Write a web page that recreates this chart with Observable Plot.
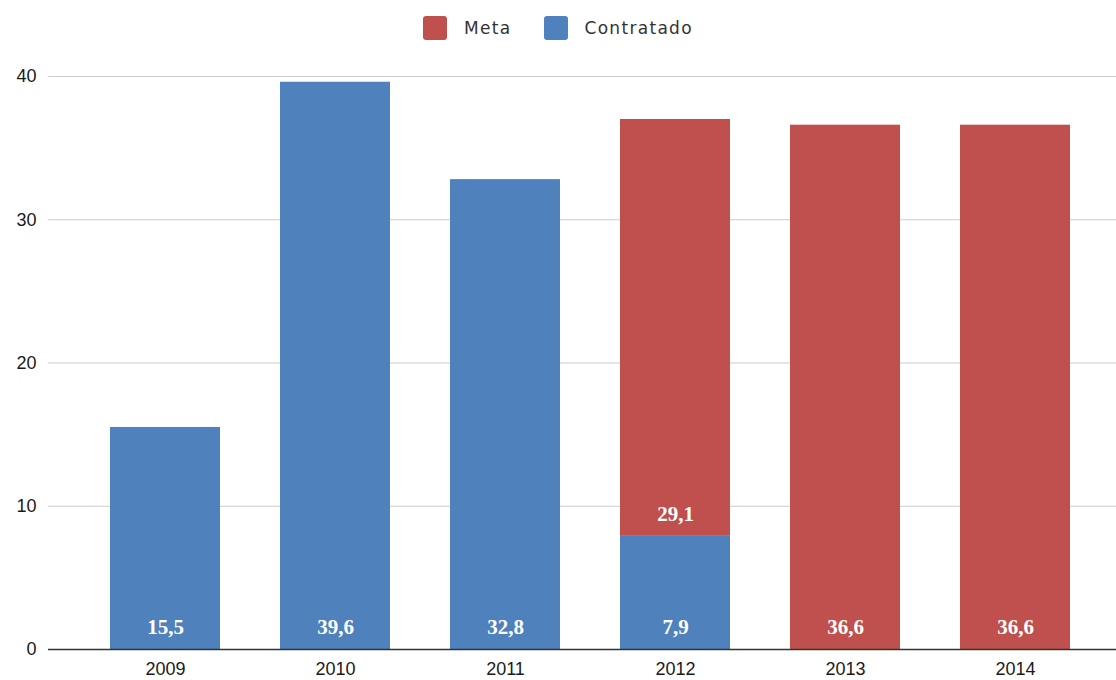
<!DOCTYPE html>
<html>
<head>
<meta charset="utf-8">
<script src="https://cdn.jsdelivr.net/npm/d3@7"></script>
<script src="https://cdn.jsdelivr.net/npm/@observablehq/plot@0.6"></script>
<style>
  html, body { margin: 0; padding: 0; background: #fff; }
  #legend { height: 50px; display: flex; justify-content: center; align-items: center; font-family: "DejaVu Sans", sans-serif; font-size: 17px; letter-spacing: 1.3px; color: #333; padding-left: 0px; box-sizing: border-box; padding-top: 5px; }
  .item { display: flex; align-items: center; margin: 0 16px; }
  .sw { width: 24px; height: 24px; border-radius: 3px; margin-right: 17px; }
</style>
</head>
<body>
<div id="legend"></div>
<div id="chart"></div>
<script>
const years = ["2009", "2010", "2011", "2012", "2013", "2014"];
const contratado = [15.5, 39.6, 32.8, 7.9, 0, 0];
const meta = [0, 0, 0, 29.1, 36.6, 36.6];
const series = ["Meta", "Contratado"];
const colors = ["#c0504d", "#4f81bd"];
const yTicks = [0, 10, 20, 30, 40];

const rows = [];
years.forEach((yr, i) => {
  rows.push({year: yr, serie: "Contratado", value: contratado[i], base: 0});
  rows.push({year: yr, serie: "Meta", value: meta[i], base: contratado[i]});
});
const labelled = rows.filter(d => d.value > 0);
const fmt = v => v.toFixed(1).replace(".", ",");

// legend
const leg = document.getElementById("legend");
series.forEach((s, i) => {
  const it = document.createElement("div");
  it.className = "item";
  const sw = document.createElement("div");
  sw.className = "sw";
  sw.style.background = colors[i];
  const t = document.createElement("span");
  t.textContent = s;
  it.appendChild(sw); it.appendChild(t);
  leg.appendChild(it);
});

const chart = Plot.plot({
  width: 1116,
  height: 630,
  marginLeft: 110,
  marginRight: 46,
  marginTop: 26,
  marginBottom: 31,
  style: {fontFamily: "'Liberation Sans', Arial, sans-serif", fontSize: "18px", color: "#1a1a1a"},
  x: {domain: years, paddingInner: 0.353, paddingOuter: 0, label: null},
  y: {domain: [0, 40], label: null},
  color: {domain: series, range: colors},
  marks: [
    Plot.ruleY(yTicks.filter(t => t > 0), {stroke: "#cccccc", strokeWidth: 1.2, insetLeft: -62, insetRight: -46}),
    Plot.barY(rows, Plot.stackY({x: "year", y: "value", fill: "serie", order: ["Contratado", "Meta"]})),
    Plot.ruleY([0], {stroke: "#333", strokeWidth: 1.5, insetLeft: -62, insetRight: -46}),
    Plot.text(labelled, {x: "year", y: "base", text: d => fmt(d.value), dy: -22, fill: "white", fontWeight: "bold", fontSize: 21, fontFamily: "'Liberation Serif', serif"}),
    Plot.axisY({ticks: yTicks, tickSize: 0, tickPadding: 74, tickFormat: d => d, fontSize: 18}),
    Plot.axisX({tickSize: 0, tickPadding: 13, fontSize: 18})
  ]
});
document.getElementById("chart").appendChild(chart);
</script>
</body>
</html>
